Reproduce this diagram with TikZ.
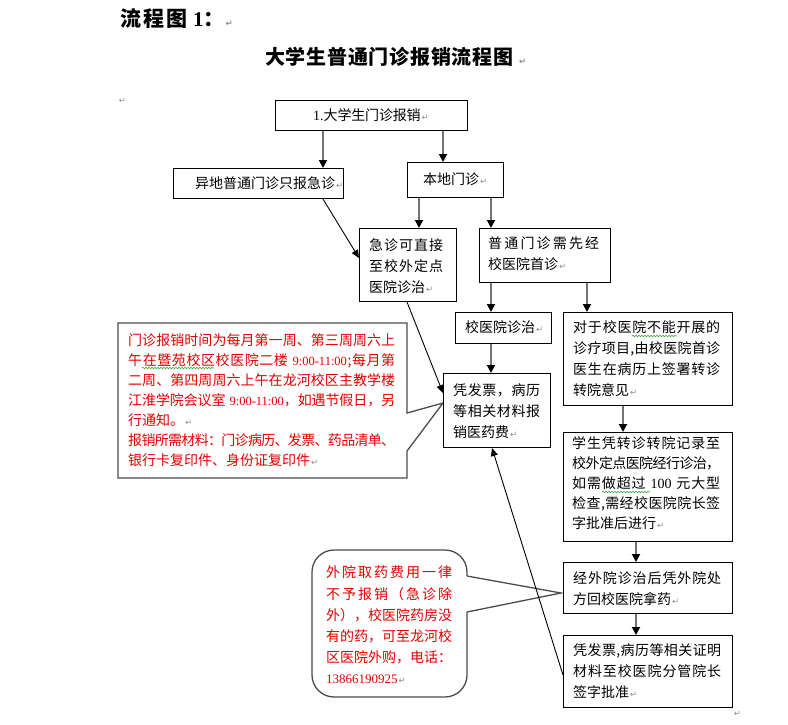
\documentclass[tikz,border=0pt]{standalone}
\usepackage{fontspec}
\usetikzlibrary{arrows.meta,decorations.pathmorphing}
\newfontfamily\cjkr{Noto Sans CJK SC}
\newfontfamily\lat{Liberation Serif}
\newfontfamily\sym{DejaVu Sans}
\definecolor{redtxt}{RGB}{228,0,0}
\definecolor{squiggreen}{RGB}{60,160,60}
\newcommand\rt{\kern1pt{\sym\fontsize{8.5}{8.5}\selectfont\color{black!45}↵}}
% justified line: spreads / shrinks the glue between the characters
\def\spglue{\hskip 0pt plus 1fil minus 3pt\relax}
\def\sploop#1{{#1}\futurelet\next\spcheck}
\def\spcheck{\ifx\next\relax\expandafter\gobblend\else\spglue\expandafter\sploop\fi}
\def\gobblend#1{}
\newcommand\justline[2]{\makebox[#1][s]{\sploop#2\relax}}
\begin{document}
\begin{tikzpicture}[x=1pt,y=-1pt,
  box/.style={draw=black, line width=1, fill=white, inner sep=0, anchor=north west},
  txt/.style={inner sep=0, anchor=west, align=left, font=\cjkr\fontsize{14}{21}\selectfont},
  rtxt/.style={inner sep=0, anchor=west, align=left, text=redtxt, font=\cjkr\fontsize{14}{20}\selectfont},
  varrow/.style={draw=black!55, line width=1.8, -{Triangle[length=8pt,width=8pt,color=black]}},
  darrow/.style={draw=black, line width=0.9, -{Triangle[length=8pt,width=7pt]}},
  callout/.style={draw=black!70, line width=1.3, fill=white},
  squig/.style={draw=squiggreen, line width=0.6, decorate, decoration={snake, amplitude=0.7pt, segment length=3pt}}
]
\useasboundingbox (0,0) rectangle (788,724);
\fill[white] (0,0) rectangle (788,724);

% headings
\node[inner sep=0, anchor=west, font=\cjkr\bfseries\fontsize{21}{21}\selectfont] (h1) at (120,18)
  {\justline{67pt}{流程图}\hspace{6pt}{\lat\bfseries 1}：\rt};
\node[inner sep=0, anchor=west, font=\cjkr\bfseries\fontsize{20}{20}\selectfont] (h2) at (265,57)
  {\justline{248pt}{大学生普通门诊报销流程图}\kern5pt\rt};
\node[inner sep=0] (p1) at (122,101) {\rt};
\node[inner sep=0] (p2) at (737,714) {\rt};

% callouts
\draw[callout] (118,323) -- (407,323) -- (407,413) -- (443,403) -- (407,451) -- (407,478) -- (118,478) -- cycle;
\node[rtxt] (c1t) at (128,400) {%
\justline{267pt}{门诊报销时间为每月第一周、第三周周六上}\\
\justline{267pt}{午在暨苑校区校医院二楼{\hspace{4pt}\lat\fontsize{12.5}{20}\selectfont 9:00-11:00};每月第}\\
\justline{267pt}{二周、第四周周六上午在龙河校区主教学楼}\\
\justline{267pt}{江淮学院会议室{\hspace{4pt}\lat\fontsize{12.5}{20}\selectfont 9:00-11:00}，如遇节假日，另}\\
行通知。\rt\\
\justline{267pt}{报销所需材料：门诊病历、发票、药品清单、}\\
银行卡复印件、身份证复印件\rt};
\draw[squig] (142,368) -- (214,368);

\draw[callout, rounded corners=22] (312,550) rectangle (467,697);
\fill[white] (466.2,576) -- (561,593) -- (466.2,612) -- cycle;
\draw[draw=black!70, line width=1.3] (467,576) -- (561,593) -- (467,612);
\node[rtxt, font=\cjkr\fontsize{14}{21.2}\selectfont] (c2t) at (326,625) {%
\justline{126pt}{外院取药费用一律}\\
\justline{126pt}{不予报销（急诊除}\\
\justline{126pt}{外），校医院药房没}\\
\justline{126pt}{有的药，可至龙河校}\\
\justline{126pt}{区医院外购，电话：}\\
{\lat\fontsize{13}{21}\selectfont 13866190925}\rt};

% boxes
\node[box, minimum width=192, minimum height=30] (b1) at (275,100) {};
\node[txt] (b1t) at (313,115) {{\lat 1.}\justline{97pt}{大学生门诊报销}\rt};

\node[box, minimum width=170, minimum height=30] (ydi) at (173,168) {};
\node[txt] (ydit) at (195,183) {异地普通门诊只报急诊\rt};

\node[box, minimum width=96, minimum height=35] (bd) at (407,162) {};
\node[txt] (bdt) at (423,179.5) {本地门诊\rt};

\node[box, minimum width=97, minimum height=73] (jz) at (359,228) {};
\node[txt] (jzt) at (369,266) {\justline{74pt}{急诊可直接}\\\justline{74pt}{至校外定点}\\医院诊治\rt};

\node[box, minimum width=131, minimum height=54] (pt) at (479,228) {};
\node[txt] (ptt) at (488,253.5) {\justline{111pt}{普通门诊需先经}\\校医院首诊\rt};

\node[box, minimum width=96, minimum height=31] (xyy) at (455,312) {};
\node[txt] (xyyt) at (465,327.5) {校医院诊治\rt};

\node[box, minimum width=169, minimum height=93] (dy) at (563,312) {};
\node[txt] (dyt) at (573,359) {\justline{147pt}{对于校医院不能开展的}\\\justline{147pt}{诊疗项目,由校医院首诊}\\\justline{147pt}{医生在病历上签署转诊}\\转院意见\rt};
\draw[squig] (632,336) -- (677,336);

\node[box, minimum width=107, minimum height=74] (fp) at (443,373) {};
\node[txt] (fpt) at (453,411) {\justline{87pt}{凭发票，病历}\\\justline{87pt}{等相关材料报}\\销医药费\rt};

\node[box, minimum width=169, minimum height=109] (xs) at (563,432) {};
\node[txt, font=\cjkr\fontsize{14}{20}\selectfont] (xst) at (572,483) {%
\justline{148pt}{学生凭转诊转院记录至}\\
\justline{148pt}{校外定点医院经行诊治，}\\
\justline{148pt}{如需做超过{\hspace{4pt}\lat 100\hspace{4pt}}元大型}\\
\justline{148pt}{检查,需经校医院院长签}\\
字批准后进行\rt};
\draw[squig] (602,492) -- (650,492);

\node[box, minimum width=169, minimum height=51] (jw) at (563,562) {};
\node[txt] (jwt) at (573,588.5) {\justline{148pt}{经外院诊治后凭外院处}\\方回校医院拿药\rt};

\node[box, minimum width=169, minimum height=72] (fp2) at (563,635) {};
\node[txt] (fp2t) at (573,671) {\justline{148pt}{凭发票,病历等相关证明}\\\justline{148pt}{材料至校医院分管院长}\\签字批准\rt};

% vertical connectors
\draw[varrow] ([xshift=48]b1.south west) -- ([xshift=48]b1.south west |- ydi.north);
\draw[varrow] ([xshift=168]b1.south west) -- ([xshift=168]b1.south west |- bd.north);
\draw[varrow] ([xshift=12]bd.south west) -- ([xshift=12]bd.south west |- jz.north);
\draw[varrow] ([xshift=84]bd.south west) -- ([xshift=84]bd.south west |- pt.north);
\draw[varrow] ([xshift=12]pt.south west) -- ([xshift=12]pt.south west |- xyy.north);
\draw[varrow] ([xshift=108]pt.south west) -- ([xshift=108]pt.south west |- dy.north);
\draw[varrow] ([xshift=36]xyy.south west) -- ([xshift=36]xyy.south west |- fp.north);
\draw[varrow] ([xshift=60]dy.south west) -- ([xshift=60]dy.south west |- xs.north);
\draw[varrow] ([xshift=73]xs.south west) -- ([xshift=73]xs.south west |- jw.north);
\draw[varrow] ([xshift=73]jw.south west) -- ([xshift=73]jw.south west |- fp2.north);

% diagonal connectors
\draw[darrow] ([xshift=150]ydi.south west) -- ([yshift=-30]jz.north west);
\draw[darrow] ([xshift=48]jz.south west) -- ([yshift=-20]fp.north west);
\draw[darrow] ([yshift=-40]fp2.north west) -- ([xshift=49]fp.south west);
\end{tikzpicture}
\end{document}
